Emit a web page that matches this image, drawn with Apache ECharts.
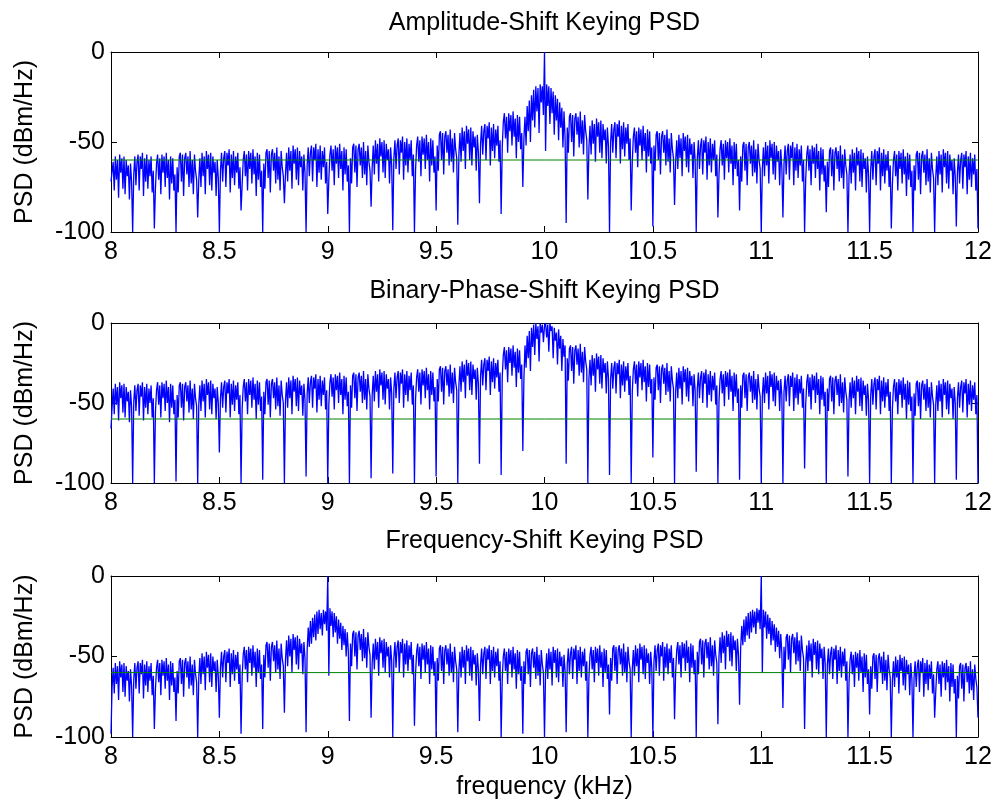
<!DOCTYPE html>
<html>
<head>
<meta charset="utf-8">
<script src="https://cdn.jsdelivr.net/npm/echarts@6/dist/echarts.min.js"></script>
<style>
  html, body { margin: 0; padding: 0; background: #fff; }
  #chart { width: 997px; height: 803px; }
</style>
</head>
<body>
<div id="chart"></div>
<script>
// Frequency grid: 8.000 .. 12.000 kHz in 0.005 kHz steps (801 bins)
const freqStart = 8.0;
const freqStep = 0.005;
const xTicks = [8, 8.5, 9, 9.5, 10, 10.5, 11, 11.5, 12];
const yTicks = [-100, -50, 0];
const noiseFloor = -60;   // reference level drawn in green (dBm/Hz)

const titles = ['Amplitude-Shift Keying PSD', 'Binary-Phase-Shift Keying PSD', 'Frequency-Shift Keying PSD'];

// PSD estimates in dBm/Hz, one row per 0.1 kHz (20 bins); the last value is 12.000 kHz
const askPsd = [
  -72, -73,-61,-77,-58,-71,-60,-81,-57,-67,-59,-76,-58,-79,-60,-69,-63,-82,-62,-72,
  -100, -68,-58,-74,-61,-57,-77,-58,-65,-56,-80,-59,-72,-57,-76,-60,-69,-58,-78,-66,
  -98, -76,-62,-57,-71,-59,-79,-57,-67,-58,-75,-56,-70,-60,-82,-58,-73,-59,-77,-68,
  -100, -64,-78,-58,-56,-72,-57,-80,-59,-56,-68,-58,-75,-55,-73,-60,-79,-57,-66,-71,
  -92, -71,-59,-75,-56,-69,-58,-79,-55,-65,-57,-74,-56,-77,-58,-67,-61,-80,-60,-70,
  -100, -66,-56,-72,-59,-55,-75,-56,-63,-54,-78,-57,-70,-55,-74,-58,-67,-56,-76,-64,
  -88, -74,-60,-55,-69,-57,-77,-55,-65,-56,-73,-54,-68,-58,-80,-56,-71,-57,-75,-66,
  -100, -62,-76,-56,-54,-70,-55,-78,-57,-54,-66,-56,-73,-53,-71,-58,-77,-55,-64,-69,
  -84, -68,-56,-72,-53,-66,-55,-76,-52,-62,-54,-71,-53,-74,-55,-64,-58,-77,-57,-67,
  -100, -63,-53,-69,-56,-52,-72,-53,-60,-51,-75,-54,-67,-52,-71,-55,-64,-53,-73,-61,
  -90, -71,-57,-52,-66,-54,-74,-52,-62,-53,-70,-51,-65,-55,-77,-53,-68,-54,-72,-63,
  -100, -59,-73,-53,-51,-67,-52,-75,-54,-51,-63,-53,-70,-50,-68,-55,-74,-52,-61,-66,
  -86, -64,-52,-68,-49,-62,-51,-72,-48,-58,-50,-67,-49,-70,-51,-60,-54,-73,-53,-63,
  -99, -59,-49,-65,-52,-48,-68,-49,-56,-47,-71,-50,-63,-48,-67,-51,-60,-49,-69,-57,
  -100, -66,-52,-47,-61,-49,-69,-47,-57,-48,-65,-46,-60,-50,-72,-48,-63,-49,-67,-58,
  -88, -52,-66,-46,-44,-60,-45,-68,-47,-44,-56,-46,-63,-43,-61,-48,-67,-45,-54,-59,
  -96, -57,-45,-61,-42,-55,-44,-65,-41,-51,-43,-60,-42,-63,-44,-53,-47,-66,-46,-56,
  -84, -51,-41,-57,-44,-40,-60,-41,-48,-39,-63,-42,-55,-40,-59,-43,-52,-41,-61,-49,
  -90, -53,-39,-34,-48,-36,-56,-34,-44,-35,-52,-33,-47,-37,-59,-35,-50,-36,-54,-45,
  -75, -48,-36,-52,-30,-44,-27,-50,-24,-38,-21,-42,-19,-33,-20,-45,-18,-28,-19,-35,
  0, -55,-18,-30,-19,-40,-20,-34,-22,-46,-24,-38,-26,-49,-28,-42,-31,-53,-33,-48,
  -95, -42,-56,-36,-34,-50,-35,-58,-37,-34,-46,-36,-53,-33,-51,-38,-57,-35,-44,-49,
  -82, -53,-41,-57,-38,-51,-40,-61,-37,-47,-39,-56,-38,-59,-40,-49,-43,-62,-42,-52,
  -100, -50,-40,-56,-43,-39,-59,-40,-47,-38,-62,-41,-54,-39,-58,-42,-51,-40,-60,-48,
  -88, -61,-47,-42,-56,-44,-64,-42,-52,-43,-60,-41,-55,-45,-67,-43,-58,-44,-62,-53,
  -97, -52,-66,-46,-44,-60,-45,-68,-47,-44,-56,-46,-63,-43,-61,-48,-67,-45,-54,-59,
  -85, -61,-49,-65,-46,-59,-48,-69,-45,-55,-47,-64,-46,-67,-48,-57,-51,-70,-50,-60,
  -100, -59,-49,-65,-52,-48,-68,-49,-56,-47,-71,-50,-63,-48,-67,-51,-60,-49,-69,-57,
  -92, -68,-54,-49,-63,-51,-71,-49,-59,-50,-67,-48,-62,-52,-74,-50,-65,-51,-69,-60,
  -88, -58,-72,-52,-50,-66,-51,-74,-53,-50,-62,-52,-69,-49,-67,-54,-73,-51,-60,-65,
  -100, -65,-53,-69,-50,-63,-52,-73,-49,-59,-51,-68,-50,-71,-52,-61,-55,-74,-54,-64,
  -92, -62,-52,-68,-55,-51,-71,-52,-59,-50,-74,-53,-66,-51,-70,-54,-63,-52,-72,-60,
  -100, -71,-57,-52,-66,-54,-74,-52,-62,-53,-70,-51,-65,-55,-77,-53,-68,-54,-72,-63,
  -89, -61,-75,-55,-53,-69,-54,-77,-56,-53,-65,-55,-72,-52,-70,-57,-76,-54,-63,-68,
  -100, -69,-57,-73,-54,-67,-56,-77,-53,-63,-55,-72,-54,-75,-56,-65,-59,-78,-58,-68,
  -100, -65,-55,-71,-58,-54,-74,-55,-62,-53,-77,-56,-69,-54,-73,-57,-66,-55,-75,-63,
  -98, -74,-60,-55,-69,-57,-77,-55,-65,-56,-73,-54,-68,-58,-80,-56,-71,-57,-75,-66,
  -100, -63,-77,-57,-55,-71,-56,-79,-58,-55,-67,-57,-74,-54,-72,-59,-78,-56,-65,-70,
  -100, -70,-58,-74,-55,-68,-57,-78,-54,-64,-56,-73,-55,-76,-57,-66,-60,-79,-59,-69,
  -97, -67,-57,-73,-60,-56,-76,-57,-64,-55,-79,-58,-71,-56,-75,-59,-68,-57,-77,-65,
  -98
];

const bpskPsd = [
  -66, -53,-41,-57,-38,-51,-40,-61,-37,-47,-39,-56,-38,-59,-40,-49,-43,-62,-42,-52,
  -100, -49,-39,-55,-42,-38,-58,-39,-46,-37,-61,-40,-53,-38,-57,-41,-50,-39,-59,-47,
  -100, -56,-42,-37,-51,-39,-59,-37,-47,-38,-55,-36,-50,-40,-62,-38,-53,-39,-57,-48,
  -99, -45,-59,-39,-37,-53,-38,-61,-40,-37,-49,-39,-56,-36,-54,-41,-60,-38,-47,-52,
  -100, -51,-39,-55,-36,-49,-38,-59,-35,-45,-37,-54,-36,-57,-38,-47,-41,-60,-40,-50,
  -81, -47,-37,-53,-40,-36,-56,-37,-44,-35,-59,-38,-51,-36,-55,-39,-48,-37,-57,-45,
  -100, -54,-40,-35,-49,-37,-57,-35,-45,-36,-53,-34,-48,-38,-60,-36,-51,-37,-55,-46,
  -98, -43,-57,-37,-35,-51,-36,-59,-38,-35,-47,-37,-54,-34,-52,-39,-58,-36,-45,-50,
  -100, -49,-37,-53,-34,-47,-36,-57,-33,-43,-35,-52,-34,-55,-36,-45,-39,-58,-38,-48,
  -96, -44,-34,-50,-37,-33,-53,-34,-41,-32,-56,-35,-48,-33,-52,-36,-45,-34,-54,-42,
  -100, -51,-37,-32,-46,-34,-54,-32,-42,-33,-50,-31,-45,-35,-57,-33,-48,-34,-52,-43,
  -100, -39,-53,-33,-31,-47,-32,-55,-34,-31,-43,-33,-50,-30,-48,-35,-54,-32,-41,-46,
  -97, -45,-33,-49,-30,-43,-32,-53,-29,-39,-31,-48,-30,-51,-32,-41,-35,-54,-34,-44,
  -94, -41,-31,-47,-34,-30,-50,-31,-38,-29,-53,-32,-45,-30,-49,-33,-42,-31,-51,-39,
  -100, -48,-34,-29,-43,-31,-51,-29,-39,-30,-47,-28,-42,-32,-54,-30,-45,-31,-49,-40,
  -96, -35,-49,-29,-27,-43,-28,-51,-30,-27,-39,-29,-46,-26,-44,-31,-50,-28,-37,-42,
  -100, -39,-27,-43,-24,-37,-26,-47,-23,-33,-25,-42,-24,-45,-26,-35,-29,-48,-28,-38,
  -88, -33,-23,-39,-26,-22,-42,-23,-30,-21,-45,-24,-37,-22,-41,-25,-34,-23,-43,-31,
  -95, -34,-20,-15,-29,-17,-37,-15,-25,-16,-33,-14,-28,-18,-40,-16,-31,-17,-35,-26,
  -80, -35,-14,-28,-8,-22,-5,-30,-3,-15,-1,-20,0,-10,-2,-24,0,-6,-1,-12,
  -2, 0,-9,-1,-18,0,-5,-2,-22,-3,-11,-6,-26,-4,-16,-8,-30,-10,-21,-14,
  -88, -22,-36,-16,-14,-30,-15,-38,-17,-14,-26,-16,-33,-13,-31,-18,-37,-15,-24,-29,
  -100, -35,-23,-39,-20,-33,-22,-43,-19,-29,-21,-38,-20,-41,-22,-31,-25,-44,-24,-34,
  -95, -35,-25,-41,-28,-24,-44,-25,-32,-23,-47,-26,-39,-24,-43,-27,-36,-25,-45,-33,
  -100, -43,-29,-24,-38,-26,-46,-24,-34,-25,-42,-23,-37,-27,-49,-25,-40,-26,-44,-35,
  -84, -34,-48,-28,-26,-42,-27,-50,-29,-26,-38,-28,-45,-25,-43,-30,-49,-27,-36,-41,
  -100, -43,-31,-47,-28,-41,-30,-51,-27,-37,-29,-46,-28,-49,-30,-39,-33,-52,-32,-42,
  -93, -41,-31,-47,-34,-30,-50,-31,-38,-29,-53,-32,-45,-30,-49,-33,-42,-31,-51,-39,
  -100, -49,-35,-30,-44,-32,-52,-30,-40,-31,-48,-29,-43,-33,-55,-31,-46,-32,-50,-41,
  -98, -39,-53,-33,-31,-47,-32,-55,-34,-31,-43,-33,-50,-30,-48,-35,-54,-32,-41,-46,
  -100, -46,-34,-50,-31,-44,-33,-54,-30,-40,-32,-49,-31,-52,-33,-42,-36,-55,-35,-45,
  -100, -43,-33,-49,-36,-32,-52,-33,-40,-31,-55,-34,-47,-32,-51,-35,-44,-33,-53,-41,
  -91, -51,-37,-32,-46,-34,-54,-32,-42,-33,-50,-31,-45,-35,-57,-33,-48,-34,-52,-43,
  -100, -41,-55,-35,-33,-49,-34,-57,-36,-33,-45,-35,-52,-32,-50,-37,-56,-34,-43,-48,
  -96, -49,-37,-53,-34,-47,-36,-57,-33,-43,-35,-52,-34,-55,-36,-45,-39,-58,-38,-48,
  -100, -45,-35,-51,-38,-34,-54,-35,-42,-33,-57,-36,-49,-34,-53,-37,-46,-35,-55,-43,
  -100, -54,-40,-35,-49,-37,-57,-35,-45,-36,-53,-34,-48,-38,-60,-36,-51,-37,-55,-46,
  -100, -44,-58,-38,-36,-52,-37,-60,-39,-36,-48,-38,-55,-35,-53,-40,-59,-37,-46,-51,
  -100, -51,-39,-55,-36,-49,-38,-59,-35,-45,-37,-54,-36,-57,-38,-47,-41,-60,-40,-50,
  -98, -47,-37,-53,-40,-36,-56,-37,-44,-35,-59,-38,-51,-36,-55,-39,-48,-37,-57,-45,
  -100
];

const fskPsd = [
  -98, -69,-57,-73,-54,-67,-56,-77,-53,-63,-55,-72,-54,-75,-56,-65,-59,-78,-58,-68,
  -100, -64,-54,-70,-57,-53,-73,-54,-61,-52,-76,-55,-68,-53,-72,-56,-65,-54,-74,-62,
  -95, -71,-57,-52,-66,-54,-74,-52,-62,-53,-70,-51,-65,-55,-77,-53,-68,-54,-72,-63,
  -90, -59,-73,-53,-51,-67,-52,-75,-54,-51,-63,-53,-70,-50,-68,-55,-74,-52,-61,-66,
  -100, -63,-51,-67,-48,-61,-50,-71,-47,-57,-49,-66,-48,-69,-50,-59,-53,-72,-52,-62,
  -88, -57,-47,-63,-50,-46,-66,-47,-54,-45,-69,-48,-61,-46,-65,-49,-58,-47,-67,-55,
  -98, -63,-49,-44,-58,-46,-66,-44,-54,-45,-62,-43,-57,-47,-69,-45,-60,-46,-64,-55,
  -95, -49,-63,-43,-41,-57,-42,-65,-44,-41,-53,-43,-60,-40,-58,-45,-64,-42,-51,-56,
  -85, -52,-40,-56,-37,-50,-39,-60,-36,-46,-38,-55,-37,-58,-39,-48,-42,-61,-41,-51,
  -97, -46,-32,-44,-28,-42,-26,-38,-24,-40,-22,-36,-21,-33,-23,-37,-21,-30,-22,-34,
  0, -62,-20,-31,-22,-38,-23,-35,-25,-42,-27,-39,-29,-46,-31,-43,-33,-50,-35,-47,
  -90, -42,-56,-36,-34,-50,-35,-58,-37,-34,-46,-36,-53,-33,-51,-38,-57,-35,-44,-49,
  -88, -54,-42,-58,-39,-52,-41,-62,-38,-48,-40,-57,-39,-60,-41,-50,-44,-63,-43,-53,
  -100, -51,-41,-57,-44,-40,-60,-41,-48,-39,-63,-42,-55,-40,-59,-43,-52,-41,-61,-49,
  -93, -61,-47,-42,-56,-44,-64,-42,-52,-43,-60,-41,-55,-45,-67,-43,-58,-44,-62,-53,
  -100, -51,-65,-45,-43,-59,-44,-67,-46,-43,-55,-45,-62,-42,-60,-47,-66,-44,-53,-58,
  -97, -59,-47,-63,-44,-57,-46,-67,-43,-53,-45,-62,-44,-65,-46,-55,-49,-68,-48,-58,
  -90, -55,-45,-61,-48,-44,-64,-45,-52,-43,-67,-46,-59,-44,-63,-47,-56,-45,-65,-53,
  -100, -64,-50,-45,-59,-47,-67,-45,-55,-46,-63,-44,-58,-48,-70,-46,-61,-47,-65,-56,
  -98, -53,-67,-47,-45,-61,-46,-69,-48,-45,-57,-47,-64,-44,-62,-49,-68,-46,-55,-60,
  -100, -60,-48,-64,-45,-58,-47,-68,-44,-54,-46,-63,-45,-66,-47,-56,-50,-69,-49,-59,
  -97, -55,-45,-61,-48,-44,-64,-45,-52,-43,-67,-46,-59,-44,-63,-47,-56,-45,-65,-53,
  -100, -63,-49,-44,-58,-46,-66,-44,-54,-45,-62,-43,-57,-47,-69,-45,-60,-46,-64,-55,
  -86, -51,-65,-45,-43,-59,-44,-67,-46,-43,-55,-45,-62,-42,-60,-47,-66,-44,-53,-58,
  -100, -58,-46,-62,-43,-56,-45,-66,-42,-52,-44,-61,-43,-64,-45,-54,-48,-67,-47,-57,
  -100, -53,-43,-59,-46,-42,-62,-43,-50,-41,-65,-44,-57,-42,-61,-45,-54,-43,-63,-51,
  -89, -60,-46,-41,-55,-43,-63,-41,-51,-42,-59,-40,-54,-44,-66,-42,-57,-43,-61,-52,
  -100, -47,-61,-41,-39,-55,-40,-63,-42,-39,-51,-41,-58,-38,-56,-43,-62,-40,-49,-54,
  -92, -50,-38,-54,-35,-48,-37,-58,-34,-44,-36,-53,-35,-56,-37,-46,-40,-59,-39,-49,
  -80, -45,-31,-43,-27,-41,-25,-37,-23,-39,-22,-35,-21,-32,-22,-36,-20,-29,-21,-33,
  0, -60,-21,-32,-22,-39,-24,-36,-26,-43,-28,-40,-30,-47,-32,-44,-34,-51,-36,-48,
  -82, -44,-58,-38,-36,-52,-37,-60,-39,-36,-48,-38,-55,-35,-53,-40,-59,-37,-46,-51,
  -95, -55,-43,-59,-40,-53,-42,-63,-39,-49,-41,-58,-40,-61,-42,-51,-45,-64,-44,-54,
  -100, -55,-45,-61,-48,-44,-64,-45,-52,-43,-67,-46,-59,-44,-63,-47,-56,-45,-65,-53,
  -100, -66,-52,-47,-61,-49,-69,-47,-57,-48,-65,-46,-60,-50,-72,-48,-63,-49,-67,-58,
  -86, -56,-70,-50,-48,-64,-49,-72,-51,-48,-60,-50,-67,-47,-65,-52,-71,-49,-58,-63,
  -100, -65,-53,-69,-50,-63,-52,-73,-49,-59,-51,-68,-50,-71,-52,-61,-55,-74,-54,-64,
  -100, -63,-53,-69,-56,-52,-72,-53,-60,-51,-75,-54,-67,-52,-71,-55,-64,-53,-73,-61,
  -88, -72,-58,-53,-67,-55,-75,-53,-63,-54,-71,-52,-66,-56,-78,-54,-69,-55,-73,-64,
  -100, -62,-76,-56,-54,-70,-55,-78,-57,-54,-66,-56,-73,-53,-71,-58,-77,-55,-64,-69,
  -88
];

const psdSets = [askPsd, bpskPsd, fskPsd];

function toPoints(values) {
  return values.map((v, i) => [+(freqStart + i * freqStep).toFixed(3), v]);
}

const FONT = '"Liberation Sans", Arial, Helvetica, sans-serif';
const FS = 25;
// subplot boxes (top, height) in pixels
const panels = [[52, 180], [323, 160], [576, 161]];
const titleCenters = [25, 293, 543];
const plotLeft = 111;
const plotRight = 19;

const grid = [], xAxis = [], yAxis = [], series = [], title = [];

panels.forEach(([top, h], g) => {
  grid.push({ left: plotLeft, right: plotRight, top: top, height: h, containLabel: false });

  title.push({
    text: titles[g],
    left: plotLeft + (997 - plotLeft - plotRight) / 2,
    top: titleCenters[g] - 14,
    textAlign: 'center',
    padding: 0,
    textStyle: { fontFamily: FONT, fontSize: FS, fontWeight: 'normal', color: '#000' }
  });

  const tickStyle = { show: true, inside: true, length: 6, lineStyle: { color: '#000', width: 1 } };
  const lineStyle = { show: true, onZero: false, lineStyle: { color: '#000', width: 1 } };

  // bottom axis with labels
  xAxis.push({
    type: 'value', gridIndex: g, position: 'bottom',
    min: xTicks[0], max: xTicks[xTicks.length - 1], interval: 0.5,
    axisLine: lineStyle, axisTick: tickStyle, splitLine: { show: false },
    axisLabel: { color: '#000', fontFamily: FONT, fontSize: FS, margin: 8 },
    name: g === 2 ? 'frequency (kHz)' : '',
    nameLocation: 'middle', nameGap: 38,
    nameTextStyle: { color: '#000', fontFamily: FONT, fontSize: FS }
  });
  // top edge of the box
  xAxis.push({
    type: 'value', gridIndex: g, position: 'top',
    min: xTicks[0], max: xTicks[xTicks.length - 1], interval: 0.5,
    axisLine: lineStyle, axisTick: tickStyle, splitLine: { show: false },
    axisLabel: { show: false }
  });
  // left axis with labels
  yAxis.push({
    type: 'value', gridIndex: g, position: 'left',
    min: yTicks[0], max: yTicks[yTicks.length - 1], interval: 50,
    axisLine: lineStyle, axisTick: tickStyle, splitLine: { show: false },
    axisLabel: { color: '#000', fontFamily: FONT, fontSize: FS, margin: 6 },
    name: 'PSD (dBm/Hz)', nameLocation: 'middle', nameGap: 73, nameRotate: 90,
    nameTextStyle: { color: '#000', fontFamily: FONT, fontSize: FS }
  });
  // right edge of the box
  yAxis.push({
    type: 'value', gridIndex: g, position: 'right',
    min: yTicks[0], max: yTicks[yTicks.length - 1], interval: 50,
    axisLine: lineStyle, axisTick: tickStyle, splitLine: { show: false },
    axisLabel: { show: false }
  });

  series.push({
    type: 'line', xAxisIndex: g * 2, yAxisIndex: g * 2,
    data: toPoints(psdSets[g]),
    showSymbol: false, symbol: 'none', sampling: null, animation: false,
    lineStyle: { color: '#0000ff', width: 1.3 }, clip: true, z: 2
  });
  series.push({
    type: 'line', xAxisIndex: g * 2, yAxisIndex: g * 2,
    data: [[xTicks[0], noiseFloor], [xTicks[xTicks.length - 1], noiseFloor]],
    showSymbol: false, symbol: 'none', animation: false,
    lineStyle: { color: '#008000', width: 1 }, z: 3
  });
});

const chart = echarts.init(document.getElementById('chart'), null, { renderer: 'canvas' });
chart.setOption({
  backgroundColor: '#fff',
  animation: false,
  title, grid, xAxis, yAxis, series
});
</script>
</body>
</html>
